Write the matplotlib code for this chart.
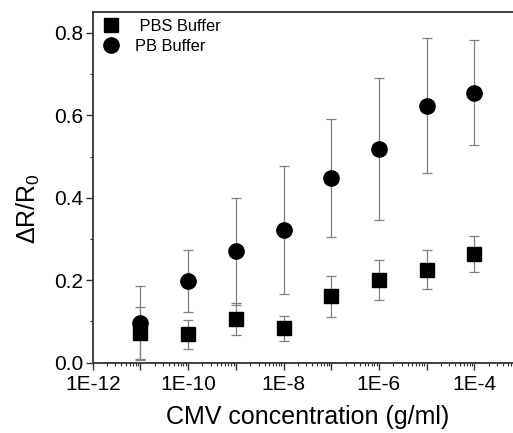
import matplotlib
matplotlib.use("Agg")
import matplotlib.pyplot as plt
from matplotlib.lines import Line2D
from matplotlib.ticker import FixedLocator, MultipleLocator, LogLocator, NullFormatter, FuncFormatter

plt.rcParams['font.family'] = ['Liberation Sans', 'DejaVu Sans']
plt.rcParams['mathtext.default'] = 'regular'

# Data
conc = [1e-11, 1e-10, 1e-9, 1e-8, 1e-7, 1e-6, 1e-5, 1e-4]
pbs_vals = [0.071, 0.069, 0.106, 0.083, 0.161, 0.200, 0.226, 0.264]
pbs_err = [0.063, 0.035, 0.038, 0.030, 0.049, 0.049, 0.047, 0.043]
pb_vals = [0.096, 0.198, 0.270, 0.321, 0.448, 0.518, 0.623, 0.655]
pb_err = [0.090, 0.075, 0.129, 0.155, 0.143, 0.173, 0.164, 0.127]
xtick_vals = [1e-12, 1e-10, 1e-8, 1e-6, 1e-4]
xtick_labels = ['1E-12', '1E-10', '1E-8', '1E-6', '1E-4']
ytick_vals = [0.0, 0.2, 0.4, 0.6, 0.8]

W, H = 513, 433
fig = plt.figure(figsize=(W / 100, H / 100), dpi=100)
left, right, top, bottom = 92.7, 522.0, 12.3, 362.7
ax = fig.add_axes([left / W, 1 - bottom / H, (right - left) / W, (bottom - top) / H])

ecol = '#808080'
ax.errorbar(conc, pbs_vals, yerr=pbs_err, fmt='s', color='black', ms=9.5,
            ecolor=ecol, elinewidth=0.9, capsize=3.5, capthick=0.9, zorder=3)
ax.errorbar(conc, pb_vals, yerr=pb_err, fmt='o', color='black', ms=11,
            ecolor=ecol, elinewidth=0.9, capsize=3.5, capthick=0.9, zorder=3)

ax.set_xscale('log')
ax.set_xlim(1e-12, 1e-3)
ax.set_ylim(0, 0.85)

ax.xaxis.set_major_locator(LogLocator(base=10, numticks=20))
ax.xaxis.set_minor_locator(LogLocator(base=10, subs=range(2, 10), numticks=100))
ax.xaxis.set_minor_formatter(NullFormatter())
lbl = dict(zip(xtick_vals, xtick_labels))
def fmt(v, pos):
    for k, s in lbl.items():
        if abs(v / k - 1) < 1e-6:
            return s
    return ''
ax.xaxis.set_major_formatter(FuncFormatter(fmt))

ax.yaxis.set_major_locator(FixedLocator(ytick_vals))
ax.yaxis.set_minor_locator(MultipleLocator(0.1))
ax.set_yticklabels([f'{v:.1f}' for v in ytick_vals])

sc = '#333333'
for s in ['left', 'bottom', 'top']:
    ax.spines[s].set_linewidth(1.3)
    ax.spines[s].set_color(sc)
ax.spines['right'].set_visible(False)

ax.tick_params(which='major', direction='out', length=5, width=1.0, color=sc, labelsize=15, pad=2)
ax.tick_params(which='minor', direction='out', length=2.5, width=0.8, color=sc)
ax.tick_params(axis='x', which='major', pad=4)

ax.set_xlabel('CMV concentration (g/ml)', fontsize=18, labelpad=8)
ax.set_ylabel('ΔR/R$_0$', fontsize=18)
ax.yaxis.set_label_coords(-0.118, 0.44)

handles = [Line2D([], [], ls='none', marker='s', color='black', ms=9.5),
           Line2D([], [], ls='none', marker='o', color='black', ms=11)]
ax.legend(handles, [' PBS Buffer', 'PB Buffer'], loc='upper left', frameon=False,
          fontsize=11.8, handletextpad=0.9, borderaxespad=0.1, labelspacing=0.3,
          handlelength=1.2, bbox_to_anchor=(0.0, 1.005))

fig.savefig('out.png', dpi=100)
